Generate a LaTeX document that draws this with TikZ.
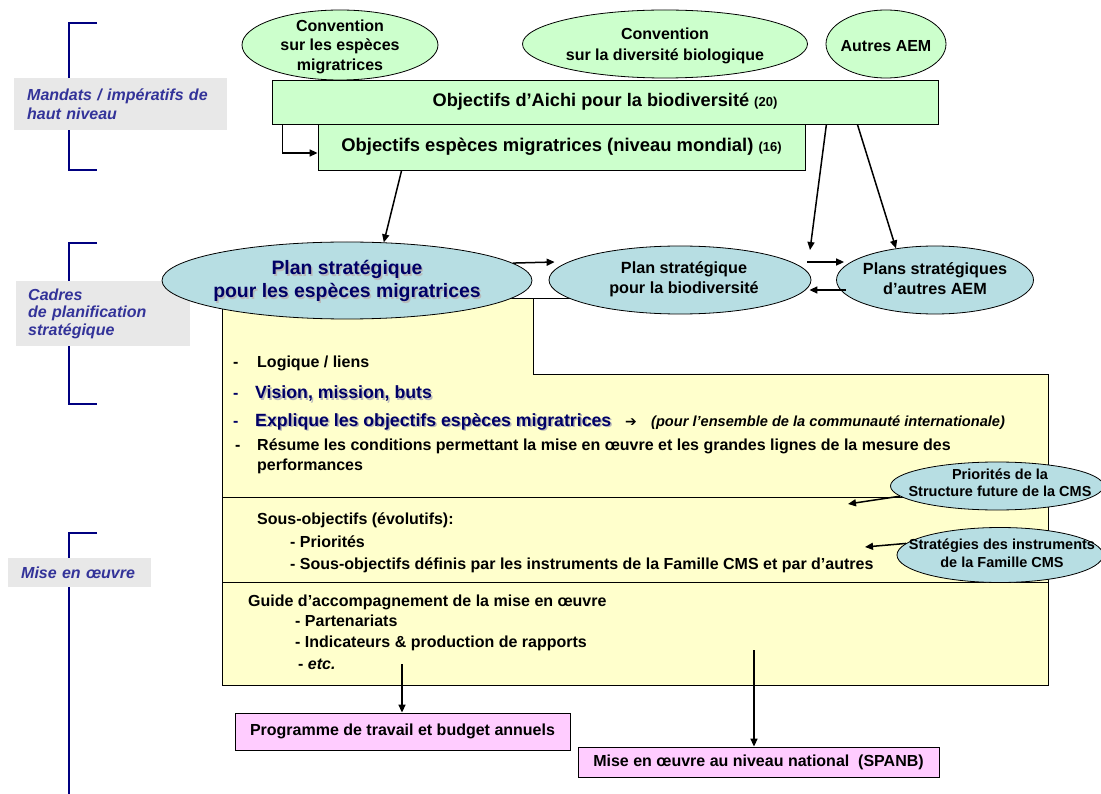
\documentclass[tikz,border=0pt]{standalone}
\usepackage{fontspec}
\setmainfont{Liberation Sans}
\newfontfamily\dejavu{DejaVu Sans}
\usetikzlibrary{shapes.geometric,arrows.meta,calc}
\definecolor{cgreen}{HTML}{CCFFCC}
\definecolor{cblue}{HTML}{B7DEE3}
\definecolor{cyellow}{HTML}{FFFFCC}
\definecolor{cpink}{HTML}{FFCCFF}
\definecolor{cgray}{HTML}{E8E8E8}
\definecolor{cnavy}{HTML}{000080}
\definecolor{clab}{HTML}{333399}
\definecolor{cdark}{HTML}{000066}
\newcommand\fs[2]{\fontsize{#1}{#2}\selectfont}
\begin{document}
\begin{tikzpicture}[x=1pt,y=-1pt,
  shp/.style={ellipse, draw=black, line width=0.8pt, inner sep=0pt},
  box/.style={draw=black, line width=0.8pt, inner sep=0pt, align=center},
  txt/.style={inner sep=0pt, align=center, font=\bfseries\fs{16}{19.5}},
  arr/.style={-{Triangle[length=8pt,width=7pt]}, line width=1.5pt},
  brk/.style={draw=cnavy, line width=1.8pt},
  lab/.style={fill=cgray, text=clab, anchor=north west, align=left, inner ysep=0pt, font=\bfseries\itshape\fs{16}{19}},
  ytext/.style={anchor=base west, inner sep=0pt, font=\bfseries\fs{16}{19}},
  stext/.style={inner sep=0pt, align=center, text=gray!55, font=\bfseries\fs{19.4}{23}},
]
\useasboundingbox (0,0) rectangle (1101,794);

% brackets
\draw[brk] (97,23) -- (69,23) -- (69,170) -- (97,170);
\draw[brk] (97,243) -- (69,243) -- (69,404) -- (97,404);
\draw[brk] (97,533) -- (69,533) -- (69,794);
% labels
\node[lab, minimum width=213pt, minimum height=52pt, text width=187pt, inner xsep=13pt] (l1) at (14,78) {Mandats / impératifs de\\haut niveau};
\node[lab, minimum width=174pt, minimum height=65pt, text width=150pt, inner xsep=12pt, font=\bfseries\itshape\fs{16}{17.7}] (l2) at (16,281) {Cadres\\de planification\\stratégique};
\node[lab, minimum width=143pt, minimum height=29pt, text width=117pt, inner xsep=13pt] (l3) at (8,558) {Mise en œuvre};

% yellow block
\draw[fill=cyellow, line width=1pt] (222,299) -- (533,299) -- (533,375) -- (1048,375) -- (1048,685) -- (222,685) -- cycle;
\draw[line width=1pt] (222,497) -- (1048,497);
\draw[line width=1pt] (222,582) -- (1048,582);
\coordinate (yc) at (533,299);
\coordinate (ye) at (578,299);
\draw[line width=1pt] (yc) -- (ye);

% top green ellipses
\node[shp, fill=cgreen, minimum width=196pt, minimum height=70pt] (csm) at (340,45) {};
\node[txt] (csmt) at (340,46.5) {Convention\\sur les espèces\\migratrices};
\node[shp, fill=cgreen, minimum width=285pt, minimum height=68pt] (cdb) at (665,44) {};
\node[txt, font=\bfseries\fs{16}{21}] (cdbt) at (665,46) {Convention\\sur la diversité biologique};
\node[shp, fill=cgreen, minimum width=120pt, minimum height=68pt] (aem) at (886,44) {};
\node[txt] (aemt) at (886,46) {Autres AEM};

% green rectangles
\node[box, fill=cgreen, minimum width=666pt, minimum height=44pt] (aichi) at (605,102) {\bfseries\fs{18.2}{20}Objectifs d’Aichi pour la biodiversité \fs{13}{15}(20)};
\node[box, fill=cgreen, minimum width=487pt, minimum height=46pt] (oem) at (561.5,147) {\bfseries\fs{18.4}{20}Objectifs espèces migratrices (niveau mondial) \fs{13}{15}(16)};

% blue ellipses
\node[shp, fill=cblue, minimum width=370pt, minimum height=77pt] (psm) at (347,280.5) {};
\node[stext] (psms) at ([xshift=1.5pt,yshift=-1.5pt]347,281) {Plan stratégique\\pour les espèces migratrices};
\node[stext, text=cdark] (psmt) at (347,281) {Plan stratégique\\pour les espèces migratrices};
\node[shp, fill=cblue, minimum width=262pt, minimum height=68pt] (psb) at (680,280) {};
\node[txt, font=\bfseries\fs{16.2}{20}] (psbt) at (684,279) {Plan stratégique\\pour la biodiversité};
\node[shp, fill=cblue, minimum width=197pt, minimum height=68pt] (psa) at (935,280) {};
\node[txt, font=\bfseries\fs{16.2}{20}] (psat) at (935,279) {Plans stratégiques\\d’autres AEM};

\node[shp, fill=cblue, minimum width=213pt, minimum height=48pt] (pri) at (997,486) {};
\node[txt, font=\bfseries\fs{14.5}{16.5}] (prit) at (1000,483) {Priorités de la\\Structure future de la CMS};
\node[shp, fill=cblue, minimum width=206pt, minimum height=55pt] (str) at (1000,555) {};
\node[txt, font=\bfseries\fs{14.5}{18}] (strt) at (1002,553) {Stratégies des instruments\\de la Famille CMS};

% yellow texts
\node[ytext] (d1) at (233,367) {-};
\node[ytext] (t1) at (257,367) {Logique / liens};
\node[ytext, text=cdark] (d2) at (233,399) {-};
\node[ytext, text=gray!55, font=\bfseries\fs{17.7}{20}] (t2s) at (256.5,400.5) {Vision, mission, buts};
\node[ytext, text=cdark, font=\bfseries\fs{17.7}{20}] (t2) at (255,399) {Vision, mission, buts};
\node[ytext, text=cdark] (d3) at (233,426) {-};
\node[ytext, text=gray!55, font=\bfseries\fs{17.7}{20}] (t3s) at (256.5,427.5) {Explique les objectifs espèces migratrices};
\node[ytext, text=cdark, font=\bfseries\fs{17.7}{20}] (t3) at (255,426) {Explique les objectifs espèces migratrices};
\node[ytext, font=\dejavu\fs{14}{16}] (t3a) at (625,426) {➔};
\node[ytext, font=\bfseries\itshape\fs{14.6}{16}] (t3b) at (651,426) {(pour l’ensemble de la communauté internationale)};
\node[ytext] (d4) at (235,450) {-};
\node[ytext] (t4) at (257,450) {Résume les conditions permettant la mise en œuvre et les grandes lignes de la mesure des};
\node[ytext] (t4b) at (257,470) {performances};

\node[ytext] (t5) at (257,524) {Sous-objectifs (évolutifs):};
\node[ytext] (t6) at (290,547) {- Priorités};
\node[ytext] (t7) at (290,569) {- Sous-objectifs définis par les instruments de la Famille CMS et par d’autres};

\node[ytext] (t8) at (248,606) {Guide d’accompagnement de la mise en œuvre};
\node[ytext] (t9) at (295,626) {- Partenariats};
\node[ytext] (t10) at (295,647) {- Indicateurs \& production de rapports};
\node[ytext] (t11) at (298,669) {- \textit{etc.}};

% pink boxes
\node[box, fill=cpink, minimum width=335pt, minimum height=37pt, font=\bfseries\fs{16}{19}] (pk1) at (402.5,731.5) {Programme de travail et budget annuels};
\node[box, fill=cpink, minimum width=361pt, minimum height=30pt, font=\bfseries\fs{16}{19}] (pk2) at (758.5,762) {Mise en œuvre au niveau national\ \ (SPANB)};

% connectors
\draw[arr] ([xshift=11pt]aichi.south west) |- ([yshift=-6pt]oem.west);
\draw[arr] ([xshift=84pt]oem.south west) -- (psm.46);
\coordinate (psbtip) at (810,250);
\draw[arr] ([xshift=-112pt]aichi.south east) -- (psbtip);
\draw[arr] ([xshift=-81pt]aichi.south east) -- (psa.141);
\coordinate (r1) at (0,262);
\coordinate (r2) at (0,290);
\draw[arr] (psm.6.6) -- ([xshift=6pt]psb.west |- r1);
\draw[arr] ([xshift=-4pt]psb.east |- r1) -- ([xshift=8pt]psa.west |- r1);
\draw[arr] ([xshift=10pt]psa.west |- r2) -- ([xshift=-2pt]psb.east |- r2);
\coordinate (pritip) at (848,504);
\draw[arr] (pri.186.3) -- (pritip);
\coordinate (strtip) at (865,547);
\draw[arr] (str.173.7) -- (strtip);
\coordinate (b1) at (402,664);
\draw[arr] (b1) -- (b1 |- pk1.north);
\coordinate (b2) at (754,650);
\draw[arr] (b2) -- (b2 |- pk2.north);
\end{tikzpicture}
\end{document}
